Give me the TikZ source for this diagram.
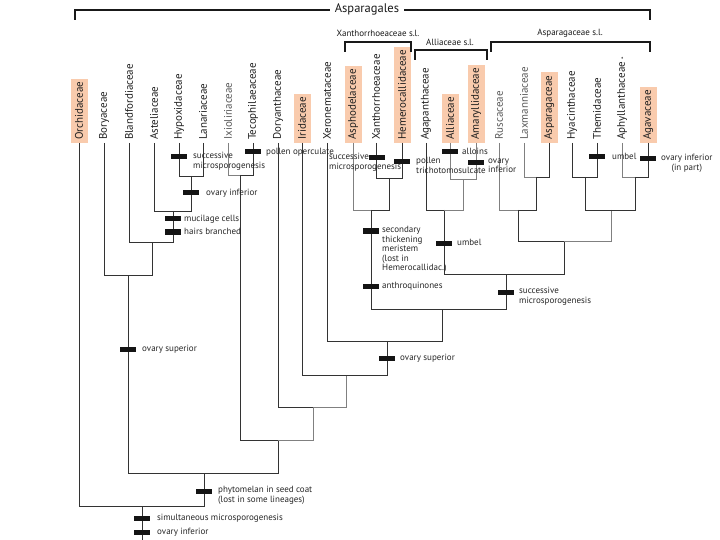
\documentclass[tikz,border=0pt]{standalone}
\usepackage{fontspec}
\setmainfont{PT Sans}
\definecolor{peach}{RGB}{249,203,173}
\newcommand\mk[5]{\node[bar] (#1) at (#2,#3) {}; \node[clab] (#1t) at (#4,#3-4.6) {#5};}
\begin{document}
\begin{tikzpicture}[x=1pt,y=-1pt,
  br/.style={draw=black!80,line width=0.9pt},
  brl/.style={draw=black!50,line width=0.6pt},
  tax/.style={rotate=90,anchor=west,font=\fontsize{11}{13}\selectfont,inner xsep=3pt,inner ysep=0pt,minimum height=17pt,text=black!88},
  taxl/.style={tax,text=black!65},
  taxbox/.style={tax,fill=peach},
  bar/.style={fill=black!92,minimum width=16pt,minimum height=5pt,inner sep=0pt,draw=none},
  clab/.style={font=\fontsize{9}{9.5}\selectfont,anchor=north west,inner sep=0pt,align=left,execute at begin node=\strut,text=black!85},
  brk/.style={draw=black!90,line width=1.1pt},
  grp/.style={font=\fontsize{9}{10}\selectfont,inner sep=1pt,text=black!90}]
\useasboundingbox (0,0) rectangle (720,540);

% taxa
\node[taxbox] (orch) at (79,143) {Orchidaceae};
\node[tax] (bory) at (104,143) {Boryaceae};
\node[tax] (blan) at (129,143) {Blandfordiaceae};
\node[tax] (aste) at (154,143) {Asteliaceae};
\node[tax] (hypo) at (179,143) {Hypoxidaceae};
\node[tax] (lana) at (203,143) {Lanariaceae};
\node[taxl] (ixio) at (228,143) {Ixioliriaceae};
\node[tax] (teco) at (253,143) {Tecophilaeaceae};
\node[tax] (dory) at (278,143) {Doryanthaceae};
\node[taxbox] (irid) at (302,143) {Iridaceae};
\node[tax] (xero) at (327,143) {Xeronemataceae};
\node[taxbox] (asph) at (353,143) {Asphodelaceae};
\node[tax] (xant) at (376,143) {Xanthorrhoeaceae};
\node[taxbox] (heme) at (402,143) {Hemerocallidaceae};
\node[tax] (agap) at (426,143) {Agapanthaceae};
\node[taxbox] (alli) at (450,143) {Alliaceae};
\node[taxbox] (amar) at (476,143) {Amaryllidaceae};
\node[taxl] (rusc) at (499,143) {Ruscaceae};
\node[taxl] (laxm) at (524,143) {Laxmanniaceae};
\node[taxbox] (aspa) at (549,143) {Asparagaceae};
\node[tax] (hyac) at (572,143) {Hyacinthaceae};
\node[tax] (them) at (597,143) {Themidaceae};
\node[tax] (aphy) at (622,143) {Aphyllanthaceae\,\raisebox{-1.5pt}{\fontsize{7}{8}\selectfont *}};
\node[taxbox] (agav) at (648,143) {Agavaceae};

% internal nodes
\coordinate (root) at (142,506);
\coordinate (rootend) at (142,540);
\coordinate (nbig) at (204,473);
\coordinate (nbor) at (128,275);
\coordinate (nbla) at (152,242);
\coordinate (nast) at (173,211);
\coordinate (nhyp) at (191,176);
\coordinate (ntec) at (278,440);
\coordinate (nixi) at (240,175);
\coordinate (ndor) at (313,407);
\coordinate (niri) at (346,375);
\coordinate (nxer) at (387,341);
\coordinate (ncore) at (442,309);
\coordinate (nxansl) at (371,210);
\coordinate (nxh) at (389,178);
\coordinate (nallasp) at (506,274);
\coordinate (nallsl) at (444,210);
\coordinate (naa) at (463,179);
\coordinate (naspsl) at (564,241);
\coordinate (nrus) at (518,210);
\coordinate (nla) at (536,177);
\coordinate (nhya) at (611,210);
\coordinate (nht) at (585,177);
\coordinate (naph) at (635,177);

% edges
\draw[br] (root) -- (rootend);
\draw[br] (orch.west) |- (root);
\draw[br] (nbig) |- (root);
\draw[br] (nbor) |- (nbig);
\draw[br] (ntec) |- (nbig);
\draw[br] (bory.west) |- (nbor);
\draw[br] (nbla) |- (nbor);
\draw[br] (blan.west) |- (nbla);
\draw[br] (nast) |- (nbla);
\draw[br] (aste.west) |- (nast);
\draw[br] (nhyp) |- (nast);
\draw[br] (hypo.west) |- (nhyp);
\draw[br] (lana.west) |- (nhyp);
\draw[br] (nixi) |- (ntec);
\draw[brl] (ndor) |- (ntec);
\draw[brl] (ixio.west) |- (nixi);
\draw[br] (teco.west) |- (nixi);
\draw[br] (dory.west) |- (ndor);
\draw[brl] (niri) |- (ndor);
\draw[br] (irid.west) |- (niri);
\draw[br] (nxer) |- (niri);
\draw[br] (xero.west) |- (nxer);
\draw[br] (ncore) |- (nxer);
\draw[br] (nxansl) |- (ncore);
\draw[br] (nallasp) |- (ncore);
\draw[brl] (asph.west) |- (nxansl);
\draw[br] (nxh) |- (nxansl);
\draw[br] (xant.west) |- (nxh);
\draw[br] (heme.west) |- (nxh);
\draw[br] (nallsl) |- (nallasp);
\draw[br] (naspsl) |- (nallasp);
\draw[br] (agap.west) |- (nallsl);
\draw[brl] (naa) |- (nallsl);
\draw[brl] (alli.west) |- (naa);
\draw[brl] (amar.west) |- (naa);
\draw[br] (nrus) |- (naspsl);
\draw[brl] (nhya) |- (naspsl);
\draw[brl] (rusc.west) |- (nrus);
\draw[br] (nla) |- (nrus);
\draw[brl] (laxm.west) |- (nla);
\draw[br] (aspa.west) |- (nla);
\draw[br] (nht) |- (nhya);
\draw[br] (naph) |- (nhya);
\draw[br] (hyac.west) |- (nht);
\draw[br] (them.west) |- (nht);
\draw[brl] (aphy.west) |- (naph);
\draw[br] (agav.west) |- (naph);

% character marks
\mk{m1}{179}{157}{193}{successive\\microsporogenesis}
\mk{m2}{253}{152}{266}{pollen operculate}
\mk{m3}{191}{193}{206}{ovary inferior}
\mk{m4}{173}{219}{184}{mucilage cells}
\mk{m5}{173}{232}{184}{hairs branched}
\mk{m6}{377}{158}{329}{successive\\microsporogenesis}
\mk{m7}{402}{162}{416}{pollen\\trichotomosulcate}
\mk{m8}{450}{152}{462}{alloins}
\mk{m9}{476}{163}{488}{ovary\\inferior}
\mk{m10}{371}{231}{382}{secondary\\thickening\\meristem\\(lost in\\Hemerocallidac.)}
\mk{m11}{371}{286}{382}{anthroquinones}
\mk{m12}{444}{243}{457}{umbel}
\mk{m13}{506}{292}{519}{successive\\microsporogenesis}
\mk{m14}{597}{157}{612}{umbel}
\node[bar] (m15) at (648,159) {};
\node[clab,align=center] (m15t) at (661,159-4.6) {ovary inferior\\(in part)};
\mk{m16}{387}{358}{400}{ovary superior}
\mk{m17}{128}{349}{142}{ovary superior}
\mk{m18}{204}{491}{218}{phytomelan in seed coat\\(lost in some lineages)}
\mk{m19}{142}{518}{157}{simultaneous microsporogenesis}
\mk{m20}{142}{532}{157}{ovary inferior}

% group brackets
\draw[brk] (75,20) |- (650,10) -- (650,20);
\node[fill=white,inner xsep=5pt,inner ysep=1pt,font=\fontsize{12.5}{14}\selectfont,text=black!90] (gasp) at (367,9) {Asparagales};
\draw[brk] (345,52) |- (411,42) -- (411,52);
\node[grp] (gxan) at (378,33) {Xanthorrhoeaceae s.l.};
\draw[brk] (415,60) |- (487,50) -- (487,60);
\node[grp] (gall) at (450,42) {Alliaceae s.l.};
\draw[brk] (491,52) |- (650,42) -- (650,52);
\node[grp] (gaspsl) at (570,33) {Asparagaceae s.l.};
\end{tikzpicture}
\end{document}
